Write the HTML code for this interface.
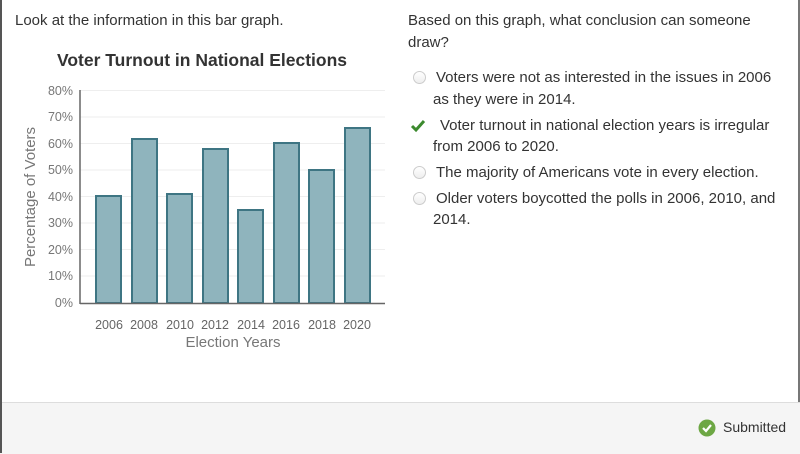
<!DOCTYPE html>
<html><head><style>
body{margin:0;width:800px;height:453px;position:relative;background:#fff;font-family:"Liberation Sans",sans-serif;overflow:hidden;color:#333}
.t{position:absolute;font-size:15px;line-height:22px;color:#333;white-space:nowrap}
.footer{position:absolute;left:0;top:402px;width:800px;height:51px;background:#f5f5f5;border-top:1px solid #ddd}
.radio{position:absolute;width:11px;height:11px;border-radius:50%;border:1px solid #ccc;background:linear-gradient(#fff,#eee)}
</style></head><body>
<div class="footer"></div>
<div style="position:absolute;left:0;top:0;width:2px;height:453px;background:#555"></div>
<div style="position:absolute;left:798px;top:0;width:2px;height:402px;background:#777"></div>
<div class="t" style="left:15px;top:10px">Look at the information in this bar graph.</div>
<div class="t" style="left:408px;top:10px">Based on this graph, what conclusion can someone</div>
<div class="t" style="left:408px;top:32px">draw?</div>
<svg style="position:absolute;left:0;top:0" width="400" height="360">
<text x="202" y="66" text-anchor="middle" font-size="17.5" font-weight="bold" fill="#333" font-family="Liberation Sans">Voter Turnout in National Elections</text>
<g stroke="#eee" stroke-width="1">
<line x1="80" x2="385" y1="90.5" y2="90.5"/><line x1="80" x2="385" y1="117" y2="117"/><line x1="80" x2="385" y1="143.5" y2="143.5"/><line x1="80" x2="385" y1="170" y2="170"/><line x1="80" x2="385" y1="196.5" y2="196.5"/><line x1="80" x2="385" y1="223" y2="223"/><line x1="80" x2="385" y1="249.5" y2="249.5"/><line x1="80" x2="385" y1="276" y2="276"/>
</g>
<g font-size="12.5" fill="#777" text-anchor="end" font-family="Liberation Sans">
<text x="73" y="95">80%</text><text x="73" y="121">70%</text><text x="73" y="148">60%</text><text x="73" y="174">50%</text><text x="73" y="201">40%</text><text x="73" y="227">30%</text><text x="73" y="254">20%</text><text x="73" y="280">10%</text><text x="73" y="307">0%</text>
</g>
<g fill="#8fb4bd" stroke="#3e7583" stroke-width="2">
<rect x="96" y="196" width="25" height="107"/>
<rect x="132" y="139" width="25" height="164"/>
<rect x="167" y="194" width="25" height="109"/>
<rect x="203" y="149" width="25" height="154"/>
<rect x="238" y="210" width="25" height="93"/>
<rect x="274" y="143" width="25" height="160"/>
<rect x="309" y="170" width="25" height="133"/>
<rect x="345" y="128" width="25" height="175"/>
</g>
<line x1="80" y1="90" x2="80" y2="304" stroke="#666" stroke-width="1.5"/>
<line x1="80" y1="303.5" x2="385" y2="303.5" stroke="#666" stroke-width="1.5"/>
<g font-size="12.5" fill="#666" text-anchor="middle" font-family="Liberation Sans">
<text x="109" y="329">2006</text><text x="144" y="329">2008</text><text x="180" y="329">2010</text><text x="215" y="329">2012</text><text x="251" y="329">2014</text><text x="286" y="329">2016</text><text x="322" y="329">2018</text><text x="357" y="329">2020</text>
</g>
<text x="233" y="347" text-anchor="middle" font-size="15" fill="#777" font-family="Liberation Sans">Election Years</text>
<text transform="translate(35,197) rotate(-90)" text-anchor="middle" font-size="15" fill="#777" font-family="Liberation Sans">Percentage of Voters</text>
</svg>
<div class="radio" style="left:413px;top:71px"></div>
<div class="t" style="left:436px;top:67px">Voters were not as interested in the issues in 2006</div>
<div class="t" style="left:433px;top:89px">as they were in 2014.</div>
<svg style="position:absolute;left:410px;top:119px" width="16" height="14"><path d="M2 7 L6 11 L14 2" stroke="#3c8a2e" stroke-width="3" fill="none"/></svg>
<div class="t" style="left:440px;top:115px">Voter turnout in national election years is irregular</div>
<div class="t" style="left:433px;top:136px">from 2006 to 2020.</div>
<div class="radio" style="left:413px;top:166px"></div>
<div class="t" style="left:436px;top:162px">The majority of Americans vote in every election.</div>
<div class="radio" style="left:413px;top:192px"></div>
<div class="t" style="left:436px;top:188px">Older voters boycotted the polls in 2006, 2010, and</div>
<div class="t" style="left:433px;top:209px">2014.</div>
<svg style="position:absolute;left:698px;top:419px" width="18" height="18"><circle cx="9" cy="9" r="8.5" fill="#6da744"/><path d="M5 9 L8 12 L13 6" stroke="#fff" stroke-width="2.2" fill="none"/></svg>
<div class="t" style="left:723px;top:416px;font-size:14px;color:#333">Submitted</div>
</body></html>
